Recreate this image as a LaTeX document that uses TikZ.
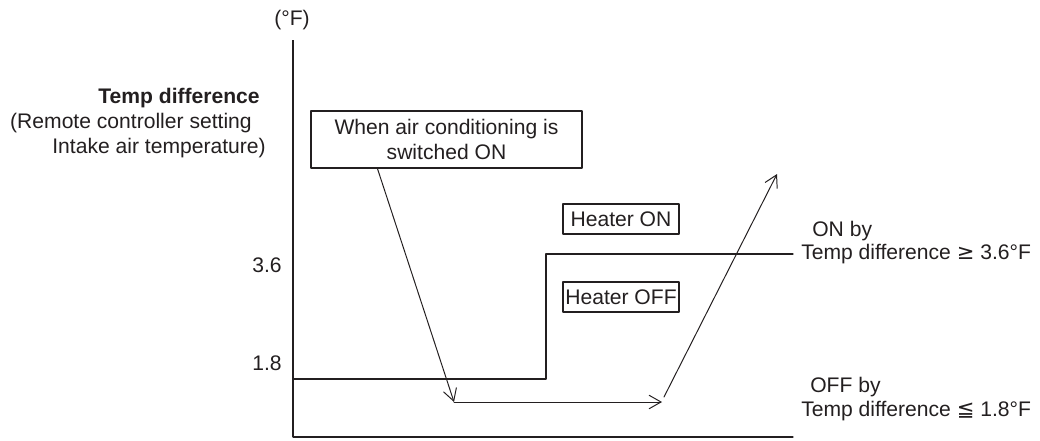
\documentclass[tikz,border=0pt]{standalone}
\usepackage{fontspec}
\setmainfont{Liberation Sans}
\newfontfamily\symfont{DejaVu Sans}
\usetikzlibrary{arrows.meta}

\definecolor{ink}{RGB}{35,31,32}
\tikzset{
  lbl/.style={inner sep=0pt,text=ink,font=\fontsize{15}{17}\selectfont},
  tagbox/.style={draw=ink,line width=0.8pt,inner sep=0pt,text=ink,
    font=\fontsize{15}{18}\selectfont,align=center},
  flow/.style={draw=ink,line width=0.7pt,-{Straight Barb[length=3mm,width=3.4mm,line width=0.7pt]}}
}

\begin{document}
\begin{tikzpicture}[x=0.025cm,y=-0.025cm,line cap=round,line join=round]
  \useasboundingbox (0,0) rectangle (1040,441);
  % axes
  \coordinate (ytop) at (293,40);
  \coordinate (orig) at (293,437);
  \coordinate (xend) at (793,437);
  \draw[ink,line width=1.5pt,line cap=butt] (ytop) -- (orig);
  \draw[ink,line width=0.9pt] (orig) -- (xend);
  \node[lbl] (unit) at (292,20) {(°F)};
  % left label
  \node[lbl,anchor=east,font=\fontsize{15}{17}\selectfont\bfseries] (ttl) at (260,98) {Temp difference};
  \node[lbl,anchor=east] (sub1) at (252,123) {(Remote controller setting};
  \node[lbl,anchor=east] (sub2) at (266,148) {Intake air temperature)};
  % ticks
  \node[lbl,anchor=east] (t36) at (282,265) {3.6};
  \node[lbl,anchor=east] (t18) at (282,363) {1.8};
  % threshold line
  \coordinate (s0) at (293,379);
  \coordinate (s1) at (546,379);
  \coordinate (s2) at (546,254);
  \coordinate (s3) at (793,254);
  \draw[ink,line width=0.8pt] (s0) -- (s1) -- (s2) -- (s3);
  % boxes
  \node[tagbox,minimum width=271*0.025cm,minimum height=57*0.025cm] (onbox) at (446.5,139.5)
    {When air conditioning is\\switched ON};
  \node[tagbox,minimum width=116*0.025cm,minimum height=30*0.025cm] (hon) at (621,219) {Heater ON};
  \node[tagbox,minimum width=116*0.025cm,minimum height=30*0.025cm] (hoff) at (621,297) {Heater OFF};
  % flow
  \coordinate (p1) at (454,402);
  \coordinate (p2) at (662,402);
  \coordinate (p3) at (664,397);
  \coordinate (p4) at (777,174);
  \draw[flow] ([xshift=1.675cm]onbox.south west) -- (p1);
  \draw[flow] (p1) -- (p2);
  \draw[flow] (p3) -- (p4);
  % right labels
  \node[lbl,anchor=west] (onby) at (812,231) {ON by};
  \node[lbl,anchor=west] (oncond) at (801,254) {Temp difference {\symfont ≥} 3.6°F};
  \node[lbl,anchor=west] (offby) at (810,387) {OFF by};
  \node[lbl,anchor=west] (offcond) at (801,411) {Temp difference {\symfont ≦} 1.8°F};
\end{tikzpicture}
\end{document}
